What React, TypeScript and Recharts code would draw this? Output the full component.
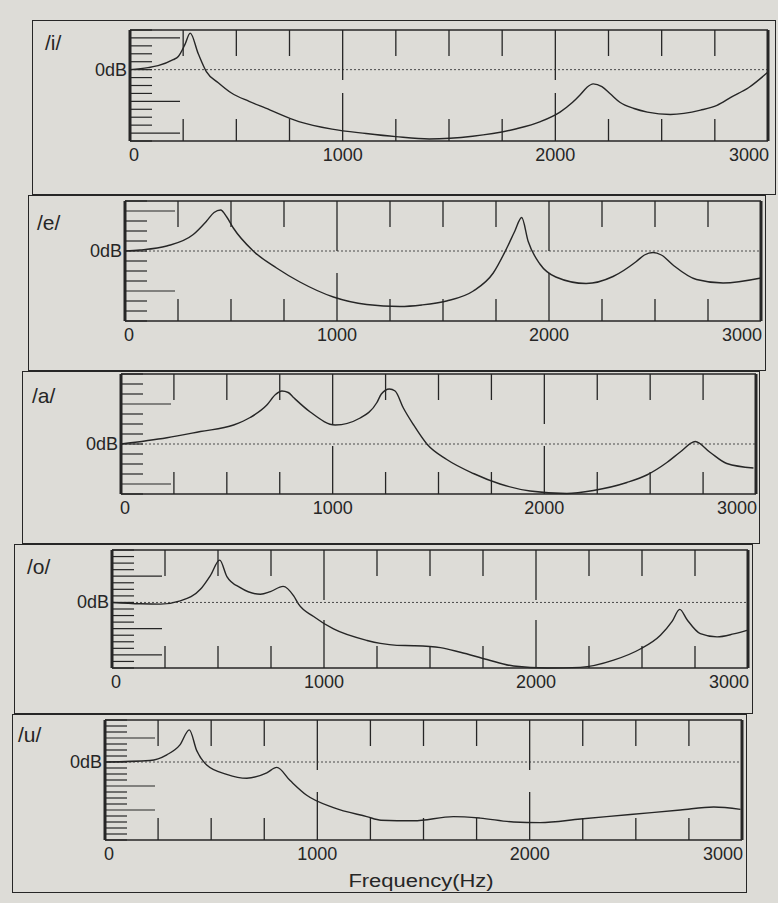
import { LineChart, Line, XAxis, YAxis, ReferenceLine } from 'recharts';

// Vowel spectra /i/ /e/ /a/ /o/ /u/ : level (dB, relative) against frequency (Hz).
const VOWELS = ['/i/', '/e/', '/a/', '/o/', '/u/'];

const FREQ_TICKS = [0, 250, 500, 750, 1000, 1250, 1500, 1750, 2000, 2250, 2500, 2750, 3000];
const FREQ_MAJOR = [1000, 2000];
const FREQ_LABELS = [0, 1000, 2000, 3000];
const LONG_DB_TICKS = [8, -8, -16];

const iRange = [-18, 10];
const eRange = [-14, 10];
const aRange = [-10, 14];
const oRange = [-20, 16];
const uRange = [-26, 14];

const iFreq = [0, 85, 132, 203, 227, 258, 283, 321, 359, 415, 477, 560, 638, 794, 950, 1110, 1250, 1407, 1611, 1818, 1930, 2022, 2080, 2116, 2148, 2178, 2219, 2258, 2305, 2370, 2433, 2541, 2683, 2760, 2825, 2910, 3000];
const iDb = [0, 0.5, 1.0, 2.5, 3.3, 6.3, 9.2, 4.0, -0.5, -3.3, -5.9, -8.0, -9.7, -13.1, -15.0, -16.1, -16.9, -17.5, -16.8, -14.9, -13.1, -10.7, -8.3, -6.4, -4.5, -3.6, -4.3, -6.1, -8.3, -9.8, -10.7, -11.3, -10.2, -9.0, -7.0, -4.5, -0.6];

const eFreq = [0, 70, 197, 322, 385, 420, 451, 480, 511, 605, 715, 825, 983, 1140, 1297, 1400, 1517, 1643, 1737, 1800, 1839, 1871, 1902, 1957, 2032, 2175, 2302, 2412, 2450, 2491, 2530, 2585, 2696, 2821, 3000];
const eDb = [0, 0.2, 1.0, 3.3, 6.0, 7.7, 8.2, 6.8, 4.6, 0, -3.4, -6.2, -9.2, -10.7, -11.1, -10.8, -10.0, -8.0, -4.4, 0.5, 4.0, 6.7, 1.9, -2.6, -5.2, -6.5, -5.1, -2.1, -0.8, -0.3, -0.8, -2.8, -5.7, -6.4, -5.4];

const aFreq = [0, 217, 375, 532, 610, 689, 730, 760, 790, 815, 894, 1012, 1130, 1209, 1230, 1268, 1295, 1334, 1381, 1445, 1539, 1665, 1791, 1933, 2106, 2232, 2390, 2484, 2579, 2642, 2713, 2784, 2862, 2988];
const aDb = [0, 1.25, 2.5, 3.8, 5.3, 7.8, 9.9, 10.6, 10.3, 9.3, 6.4, 3.8, 5.2, 8.3, 10.0, 11.0, 10.6, 7.2, 3.9, 0, -3.1, -5.9, -8.0, -9.4, -9.9, -9.3, -7.7, -6.2, -3.7, -1.6, 0.5, -1.7, -3.9, -4.8];

const oFreq = [0, 134, 228, 322, 417, 464, 508, 542, 605, 700, 747, 807, 857, 880, 951, 1045, 1203, 1266, 1344, 1423, 1549, 1643, 1769, 1894, 2052, 2209, 2366, 2492, 2587, 2642, 2678, 2712, 2775, 2854, 2932, 2995];
const oDb = [0, -0.4, -0.5, 0.5, 4.0, 8.2, 12.9, 7.9, 4.5, 2.5, 3.3, 4.9, 2.0, -0.5, -4.3, -8.1, -11.6, -12.5, -13.1, -13.2, -13.8, -15.2, -17.4, -19.4, -20.0, -19.8, -17.6, -14.2, -10.0, -5.8, -2.1, -5.2, -9.5, -10.5, -9.6, -8.5];

const uFreq = [0, 212, 291, 353, 397, 432, 479, 573, 668, 762, 809, 872, 950, 1076, 1233, 1300, 1453, 1641, 1767, 1924, 2050, 2239, 2474, 2710, 2867, 2993];
const uDb = [0, 0.5, 2.4, 5.7, 10.7, 3.8, -1.0, -4.1, -5.4, -3.6, -1.8, -6.2, -11.1, -15.2, -18.2, -19.4, -19.6, -18.2, -18.7, -20.0, -20.2, -19.0, -17.5, -16.0, -15.0, -15.8];

const SERIES = [
  { freq: iFreq, db: iDb, range: iRange },
  { freq: eFreq, db: eDb, range: eRange },
  { freq: aFreq, db: aDb, range: aRange },
  { freq: oFreq, db: oDb, range: oRange },
  { freq: uFreq, db: uDb, range: uRange },
];

// page layout (px) — the printed figure leans a little, so each panel sits a bit further left
const LAYOUT = [
  { plot: [130, 30, 768, 141], box: [32, 20, 776, 195], label: [45, 32] },
  { plot: [125, 201, 761, 321], box: [28, 195, 766, 371], label: [37, 212] },
  { plot: [121, 374, 756, 494], box: [22, 371, 760, 544], label: [32, 385] },
  { plot: [112, 550, 748, 668], box: [14, 544, 753, 714], label: [27, 556] },
  { plot: [105, 720, 742, 840], box: [12, 714, 747, 893], label: [18, 724] },
];

const FONT = '"Liberation Sans", Arial, Helvetica, sans-serif';
const INK = '#262626';
const PAPER = '#dddcd7';
const Y_W = 60;
const M_TOP = 4;
const M_RIGHT = 6;
const X_H = 34;

function dbTicks(range: number[]) {
  const out: number[] = [];
  for (let v = range[1]; v >= range[0]; v -= 2) out.push(v);
  return out;
}

function BottomTick(props: any) {
  const { x, y, payload } = props;
  const v = payload.value;
  const len = FREQ_MAJOR.includes(v) ? 48 : v > 0 && v < 3000 ? 22 : 0;
  const anchor = v === 0 ? 'start' : v === 3000 ? 'end' : 'middle';
  return (
    <g>
      {len > 0 && <line x1={x} x2={x} y1={y} y2={y - len} stroke={INK} strokeWidth={1.3} />}
      {FREQ_LABELS.includes(v) && (
        <text x={v === 0 ? x - 1 : v === 3000 ? x + 1 : x} y={y + 20} textAnchor={anchor}
          fontSize={18} fill={INK} fontFamily={FONT}>{v}</text>
      )}
    </g>
  );
}

function TopTick(props: any) {
  const { x, y, payload } = props;
  const v = payload.value;
  const len = FREQ_MAJOR.includes(v) ? 50 : v > 0 && v < 3000 ? 26 : 0;
  if (!len) return <g />;
  return <line x1={x} x2={x} y1={y} y2={y + len} stroke={INK} strokeWidth={1.3} />;
}

function LeftTick(props: any) {
  const { x, y, payload } = props;
  const v = payload.value;
  const len = LONG_DB_TICKS.includes(v) ? 50 : 22;
  return (
    <g>
      <line x1={x} x2={x + len} y1={y} y2={y} stroke={INK} strokeWidth={1.2} />
      {v === 0 && (
        <text x={x - 3} y={y + 6} textAnchor="end" fontSize={18} fill={INK} fontFamily={FONT}>0dB</text>
      )}
    </g>
  );
}

function RightTick(props: any) {
  const { x, y, payload } = props;
  const len = LONG_DB_TICKS.includes(payload.value) ? 50 : 22;
  return <line x1={x} x2={x - len} y1={y} y2={y} stroke={INK} strokeWidth={1.2} />;
}

function Panel({ idx }: { idx: number }) {
  const s = SERIES[idx];
  const [pl, pt, pr, pb] = LAYOUT[idx].plot;
  const rows = s.freq.map((f, i) => ({ f, db: s.db[i] }));
  const ticks = dbTicks(s.range);
  const w = Y_W + (pr - pl) + M_RIGHT;
  const h = M_TOP + (pb - pt) + X_H;
  return (
    <div style={{ position: 'absolute', left: pl - Y_W, top: pt - M_TOP }}>
      <LineChart width={w} height={h} data={rows} margin={{ top: M_TOP, right: M_RIGHT, bottom: 0, left: 0 }}>
        <XAxis xAxisId="b" dataKey="f" type="number" domain={[0, 3000]} ticks={FREQ_TICKS} interval={0}
          height={X_H} tickLine={false} tickSize={0} tickMargin={0} tick={<BottomTick />}
          axisLine={{ stroke: INK, strokeWidth: 1.5 }} />
        <XAxis xAxisId="t" dataKey="f" type="number" orientation="top" mirror domain={[0, 3000]}
          ticks={FREQ_TICKS} interval={0} tickLine={false} tickSize={0} tickMargin={0} tick={<TopTick />}
          axisLine={{ stroke: INK, strokeWidth: 1.5 }} />
        <YAxis yAxisId="l" type="number" domain={s.range} ticks={ticks} interval={0} width={Y_W}
          tickLine={false} tickSize={0} tickMargin={0} tick={<LeftTick />}
          axisLine={{ stroke: INK, strokeWidth: 3 }} />
        <YAxis yAxisId="r" type="number" orientation="right" mirror domain={s.range} ticks={ticks} interval={0}
          tickLine={false} tickSize={0} tickMargin={0} tick={<RightTick />}
          axisLine={{ stroke: INK, strokeWidth: 3 }} />
        <ReferenceLine xAxisId="b" yAxisId="l" y={0} stroke="#4a4a4a" strokeWidth={1} strokeDasharray="2 2" />
        <Line xAxisId="b" yAxisId="l" dataKey="db" type="monotone" dot={false} activeDot={false}
          stroke={INK} strokeWidth={1.4} isAnimationActive={false} />
      </LineChart>
    </div>
  );
}

export default function App() {
  return (
    <div style={{ position: 'fixed', left: 0, top: 0, width: 778, height: 903, background: PAPER, overflow: 'hidden', fontFamily: FONT, color: INK }}>
      {LAYOUT.map((l, i) => {
        const [bl, bt, br, bb] = l.box;
        return (
          <div key={'box' + i} style={{ position: 'absolute', left: bl, top: bt, width: br - bl, height: bb - bt, border: `1.5px solid ${INK}`, boxSizing: 'border-box' }} />
        );
      })}
      {LAYOUT.map((l, i) => (
        <div key={'lab' + i} style={{ position: 'absolute', left: l.label[0], top: l.label[1], fontSize: 21, lineHeight: 1 }}>
          {VOWELS[i]}
        </div>
      ))}
      {LAYOUT.map((_, i) => <Panel key={i} idx={i} />)}
      <div style={{ position: 'absolute', left: 321, top: 872, width: 200, textAlign: 'center', fontSize: 18, lineHeight: '18px', transform: 'scaleX(1.22)' }}>
        Frequency(Hz)
      </div>
    </div>
  );
}
